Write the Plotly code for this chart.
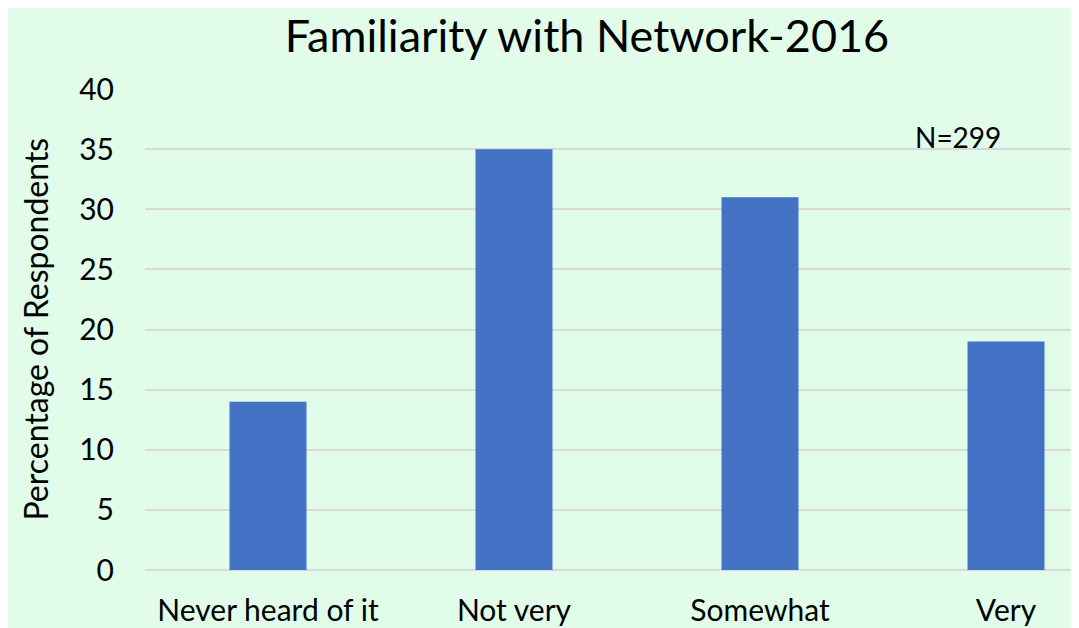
import plotly.graph_objects as go

categories = ["Never heard of it", "Not very", "Somewhat", "Very"]
values = [14, 35, 31, 19]
y_ticks = [0, 5, 10, 15, 20, 25, 30, 35, 40]
title_text = "Familiarity with Network-2016"
y_title = "Percentage of Respondents"
note_text = "N=299"

BG = "#E1FCE9"
FONT = "Lato"

# page body has an 8px offset; compensate in margins
OFF = 8
L = 145 - OFF
T = 89 - OFF
B = 628 - (570 - OFF)
PW = 1079 - L

fig = go.Figure()
fig.add_trace(go.Bar(
    x=list(range(len(categories))),
    y=values,
    marker=dict(color="#4472C4", line=dict(width=0)),
    width=0.313,
    hoverinfo="skip",
))

fig.update_layout(
    width=1079, height=628,
    paper_bgcolor=BG, plot_bgcolor=BG,
    margin=dict(l=L, r=0, t=T, b=B),
    showlegend=False,
    font=dict(family=FONT, size=30, color="#000000"),
    title=dict(text=title_text, x=(587 - OFF)/1079, xanchor="center",
               y=1-(36 - OFF)/628, yanchor="middle",
               font=dict(family=FONT, size=45, color="#000000")),
    xaxis=dict(
        range=[-0.5, 3 + (1079 + OFF - 1006)/246],
        tickmode="array",
        tickvals=list(range(len(categories))),
        ticktext=categories,
        showgrid=False, zeroline=False, showline=False,
        ticks="", ticklabelstandoff=20,
        tickfont=dict(family=FONT, size=30),
        fixedrange=True,
    ),
    yaxis=dict(
        range=[0, 40],
        tickmode="array",
        tickvals=y_ticks,
        showgrid=True, gridcolor="#D9D9D9", gridwidth=2,
        zeroline=True, zerolinecolor="#D9D9D9", zerolinewidth=2,
        showline=False, ticks="", ticklabelstandoff=30,
        tickfont=dict(family=FONT, size=30),
        fixedrange=True,
    ),
    annotations=[
        dict(text=y_title, xref="paper", yref="paper",
             x=(35 - OFF - L)/PW, y=0.5, xanchor="center", yanchor="middle",
             textangle=-90, showarrow=False,
             font=dict(family=FONT, size=32, color="#000000")),
        dict(text=note_text, xref="x", yref="y", x=2.805, y=36.0,
             xanchor="center", yanchor="middle", showarrow=False,
             font=dict(family=FONT, size=28, color="#000000")),
    ],
)

fig.write_html("out.html")
